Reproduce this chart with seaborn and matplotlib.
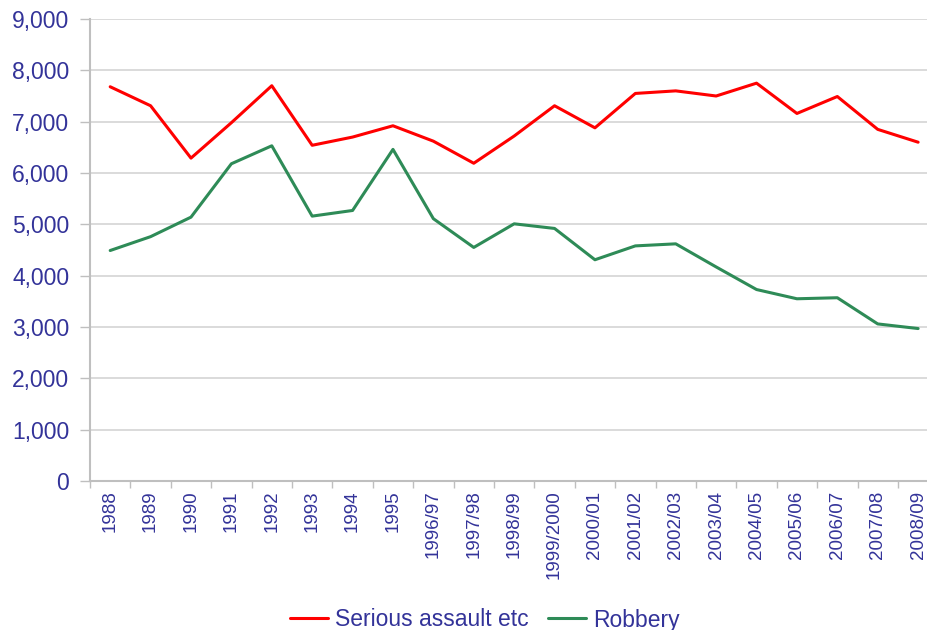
import numpy as np
import pandas as pd
import matplotlib
matplotlib.use("Agg")
import matplotlib.pyplot as plt
from matplotlib.ticker import FuncFormatter, FixedLocator
import seaborn as sns

periods = ['1988', '1989', '1990', '1991', '1992', '1993', '1994', '1995',
           '1996/97', '1997/98', '1998/99', '1999/2000', '2000/01', '2001/02',
           '2002/03', '2003/04', '2004/05', '2005/06', '2006/07', '2007/08', '2008/09']

serious_assault = [7680, 7310, 6290, 6980, 7700, 6540, 6700, 6920, 6620, 6190,
                   6720, 7310, 6880, 7550, 7600, 7500, 7750, 7160, 7490, 6850, 6600]

robbery = [4490, 4760, 5140, 6180, 6530, 5160, 5270, 6460, 5110, 4550,
           5010, 4920, 4310, 4580, 4620, 4170, 3730, 3550, 3570, 3060, 2970]

series_names = ['Serious assault etc', 'Robbery']
colors = {'Serious assault etc': '#FF0000', 'Robbery': '#2E8B57'}
text_color = '#333399'

df = pd.concat([
    pd.DataFrame({'period': periods, 'x': np.arange(len(periods)),
                  'value': serious_assault, 'series': series_names[0]}),
    pd.DataFrame({'period': periods, 'x': np.arange(len(periods)),
                  'value': robbery, 'series': series_names[1]}),
])

sns.set_style("white")
plt.rcParams['font.family'] = ['Liberation Sans', 'DejaVu Sans']

fig = plt.figure(figsize=(9.27, 6.3), dpi=100)
ax = fig.add_axes([90 / 927, 1 - 481 / 630, 1 - 90 / 927, (481 - 19) / 630])

sns.lineplot(data=df, x='x', y='value', hue='series', hue_order=series_names,
             palette=colors, linewidth=2.2, sort=False, ax=ax)

ax.set_xlim(-0.5, 20.22)
ax.set_ylim(0, 9000)
ax.set_yticks(np.arange(0, 9001, 1000))
ax.yaxis.set_major_formatter(FuncFormatter(lambda v, p: f'{int(v):,}'))
ax.yaxis.grid(True, color='#D4D4D4', linewidth=1.2)
ax.set_axisbelow(True)

ax.set_xticks(np.arange(len(periods)))
ax.set_xticklabels(periods, rotation=90, color=text_color, fontsize=13.5)
ax.xaxis.set_minor_locator(FixedLocator(np.arange(-0.5, len(periods), 1)))
ax.tick_params(axis='x', which='major', length=0, pad=7)
ax.tick_params(axis='x', which='minor', length=5, color='#BFBFBF', width=1, direction='out', bottom=True)
ax.tick_params(axis='y', length=7, color='#BFBFBF', width=1, labelsize=16.5, labelcolor=text_color,
               direction='out', left=True, pad=8)

for side in ['top', 'right']:
    ax.spines[side].set_visible(False)
for side in ['left', 'bottom']:
    ax.spines[side].set_color('#BFBFBF')
    ax.spines[side].set_linewidth(1.5)

ax.set_xlabel('')
ax.set_ylabel('')

handles, labels = ax.get_legend_handles_labels()
ax.get_legend().remove()
leg = fig.legend(handles, labels, loc='center', bbox_to_anchor=(485 / 927, 1 - 620 / 630),
                 ncol=2, frameon=False, fontsize=16.5, handlelength=1.66, columnspacing=0.85,
                 handletextpad=0.3)
for t in leg.get_texts():
    t.set_color(text_color)

fig.savefig('out.png', dpi=100)
